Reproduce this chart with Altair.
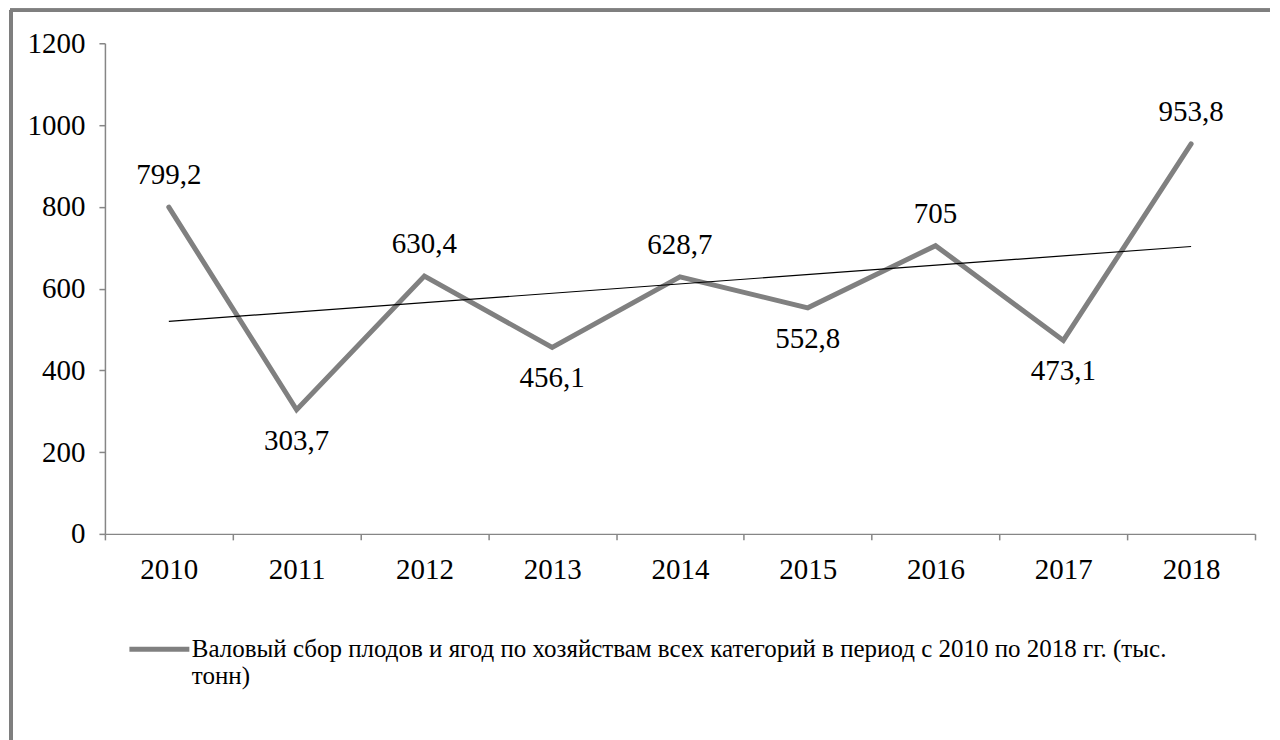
import altair as alt
import pandas as pd

years = ["2010", "2011", "2012", "2013", "2014", "2015", "2016", "2017", "2018"]
values = [799.2, 303.7, 630.4, 456.1, 628.7, 552.8, 705, 473.1, 953.8]
series_name = ("Валовый сбор плодов и ягод по хозяйствам всех категорий "
               "в период с 2010 по 2018 гг. (тыс. тонн)")
y_ticks = [0, 200, 400, 600, 800, 1000, 1200]

df = pd.DataFrame({
    "year": years,
    "value": values,
    "idx": list(range(len(years))),
    "series": [series_name] * len(years),
})

FONT = "Liberation Serif"
FS = 29
W, H = 1151, 491
GRAY_AXIS = "#868686"
LINE_GRAY = "#808080"

x_enc = alt.X(
    "year:O",
    scale=alt.Scale(type="band", paddingInner=0, paddingOuter=0),
    axis=alt.Axis(
        title=None, labelAngle=0, tickBand="extent", tickSize=6,
        labelPadding=16, domainColor=GRAY_AXIS, tickColor=GRAY_AXIS,
        labelFont=FONT, labelFontSize=FS, labelColor="black",
        domainWidth=1.5, tickWidth=1.5,
    ),
)
y_scale = alt.Scale(domain=[0, 1200], nice=False)
y_axis = alt.Axis(
    title=None, values=y_ticks, format="d", grid=False, tickSize=6,
    labelPadding=14, domainColor=GRAY_AXIS, tickColor=GRAY_AXIS,
    labelFont=FONT, labelFontSize=FS, labelColor="black",
    domainWidth=1.5, tickWidth=1.5,
)
y_enc = alt.Y("value:Q", scale=y_scale, axis=y_axis)

base = alt.Chart(df)

line = base.mark_line(strokeWidth=5, strokeCap="round").encode(
    x=x_enc,
    y=y_enc,
    color=alt.Color(
        "series:N",
        scale=alt.Scale(range=[LINE_GRAY]),
        legend=alt.Legend(
            title=None, orient="none", legendX=22, legendY=582,
            symbolType="M-1,-0.27L1,-0.27", symbolSize=3600, symbolStrokeWidth=5,
            labelFont=FONT, labelFontSize=25, labelColor="black",
            labelLimit=1200, labelOffset=0, labelBaseline="alphabetic",
            labelExpr="[slice(datum.label, 0, lastindexof(datum.label, ' ')), "
                      "slice(datum.label, lastindexof(datum.label, ' ') + 1)]",
        ),
    ),
)

labels = base.transform_calculate(
    label="replace(toString(datum.value), '.', ',')"
)
above = labels.transform_filter("datum.idx % 2 == 0").mark_text(
    dy=-32, font=FONT, fontSize=FS, color="black", baseline="middle"
).encode(x=alt.X("year:O"), y=alt.Y("value:Q"), text="label:N")
below = labels.transform_filter("datum.idx % 2 == 1").mark_text(
    dy=31, font=FONT, fontSize=FS, color="black", baseline="middle"
).encode(x=alt.X("year:O"), y=alt.Y("value:Q"), text="label:N")

frame_left = base.mark_rule(color="#7f7f7f", strokeWidth=3).encode(
    x=alt.value(-94), y=alt.value(-33), y2=alt.value(700)
)
frame_top = base.mark_rule(color="#7f7f7f", strokeWidth=3).encode(
    x=alt.value(-95), x2=alt.value(1166), y=alt.value(-33)
)

main = alt.layer(frame_left, frame_top, line, above, below)

trend = base.transform_regression(
    "idx", "value", extent=[0, 8]
).mark_line(color="black", strokeWidth=1.2).encode(
    x=alt.X("idx:Q", scale=alt.Scale(domain=[-0.5, 8.5], nice=False, zero=False), axis=None),
    y=alt.Y("value:Q", scale=y_scale, axis=y_axis),
)

chart = alt.layer(main, trend).resolve_scale(x="independent").properties(
    width=W, height=H, padding=0, background="white"
).configure(font=FONT).configure_view(stroke=None).configure_text(font=FONT)

chart.save("out.html", embed_options={"renderer": "svg", "actions": False})
